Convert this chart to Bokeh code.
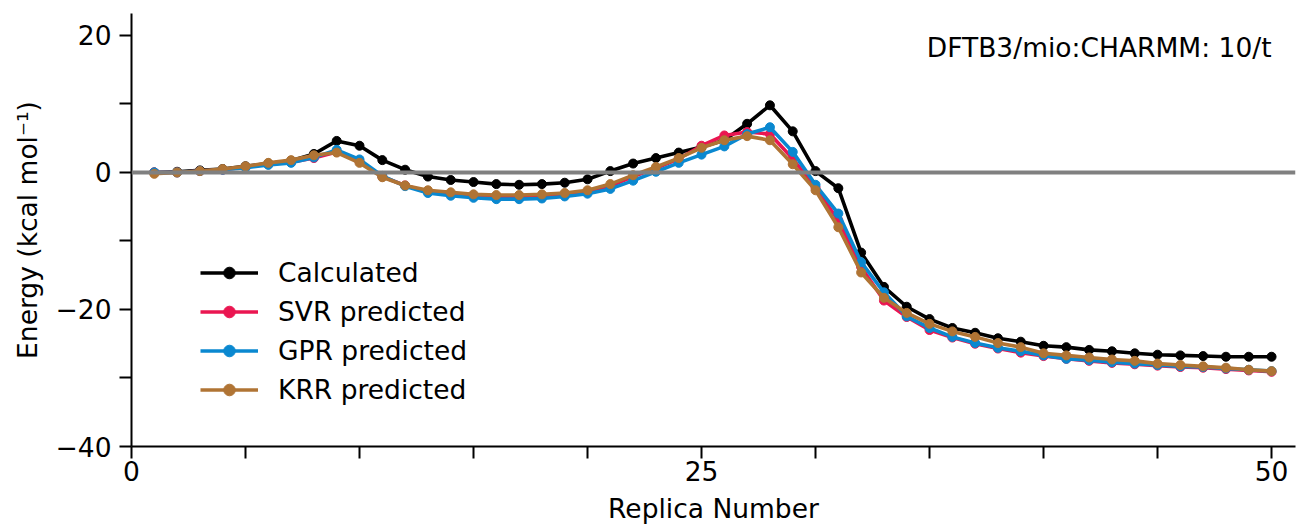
from bokeh.plotting import figure
from bokeh.models import Range1d, FixedTicker, Span, Legend, LegendItem, Label
from bokeh.embed import file_html
from bokeh.resources import INLINE

replica = list(range(1, 51))

calculated = [0.0, 0.1, 0.3, 0.5, 0.9, 1.3, 1.7, 2.7, 4.6, 3.9,
              1.8, 0.4, -0.6, -1.1, -1.4, -1.7, -1.8, -1.7, -1.5, -1.0,
              0.2, 1.3, 2.1, 2.9, 3.7, 4.7, 7.1, 9.8, 6.0, 0.2,
              -2.3, -11.7, -16.7, -19.6, -21.4, -22.7, -23.4, -24.2, -24.7, -25.3,
              -25.5, -25.9, -26.1, -26.4, -26.6, -26.7, -26.8, -26.9, -26.9, -26.9]

svr = [0.0, 0.0, 0.2, 0.4, 0.8, 1.2, 1.5, 2.1, 3.0, 1.6,
       -0.6, -1.9, -2.8, -3.1, -3.4, -3.5, -3.5, -3.4, -3.2, -2.8,
       -2.0, -0.6, 0.6, 2.0, 3.9, 5.4, 5.9, 5.6, 2.0, -2.2,
       -7.0, -13.8, -18.7, -21.1, -23.0, -24.1, -25.0, -25.7, -26.3, -26.8,
       -27.2, -27.5, -27.8, -28.0, -28.2, -28.4, -28.5, -28.7, -28.9, -29.1]

gpr = [0.0, 0.0, 0.2, 0.4, 0.7, 1.1, 1.4, 2.2, 3.3, 1.9,
       -0.5, -2.0, -3.0, -3.4, -3.7, -3.9, -3.9, -3.8, -3.5, -3.1,
       -2.4, -1.2, 0.1, 1.4, 2.6, 3.8, 5.6, 6.6, 3.0, -1.8,
       -6.0, -13.1, -17.5, -21.0, -22.7, -24.0, -24.9, -25.6, -26.1, -26.7,
       -27.2, -27.4, -27.7, -27.9, -28.1, -28.3, -28.4, -28.6, -28.8, -29.0]

krr = [-0.2, 0.0, 0.2, 0.5, 0.9, 1.4, 1.8, 2.5, 2.9, 1.4,
       -0.7, -1.9, -2.6, -2.9, -3.2, -3.3, -3.3, -3.2, -3.0, -2.6,
       -1.7, -0.4, 0.8, 2.1, 3.6, 4.7, 5.3, 4.7, 1.2, -2.6,
       -8.0, -14.6, -18.3, -20.5, -22.1, -23.2, -24.0, -24.9, -25.5, -26.4,
       -26.7, -27.0, -27.3, -27.5, -27.9, -28.1, -28.3, -28.5, -28.8, -29.0]

series_names = ["Calculated", "SVR predicted", "GPR predicted", "KRR predicted"]
series_colors = ["#000000", "#EA1651", "#0A88D0", "#B07434"]

x_ticks = list(range(0, 51, 5))
x_labels = {0: "0", 25: "25", 50: "50"}
y_ticks = list(range(-40, 21, 10))
y_labels = {-40: "\u221240", -20: "\u221220", 0: "0", 20: "20"}
annotation = "DFTB3/mio:CHARMM: 10/t"

FONT = "DejaVu Sans"
FS = "26.5px"

p = figure(width=1297, height=527, output_backend="svg", toolbar_location=None,
           x_range=Range1d(0, 51.05), y_range=Range1d(-40, 23.2),
           min_border_left=131, min_border_right=2, min_border_top=13, min_border_bottom=81)
p.outline_line_color = None
p.xgrid.visible = False
p.ygrid.visible = False
p.background_fill_color = "white"

for ax in (p.xaxis[0], p.yaxis[0]):
    ax.axis_line_width = 2
    ax.major_tick_line_width = 2
    ax.major_tick_out = 12
    ax.major_tick_in = 0
    ax.minor_tick_out = 0
    ax.minor_tick_in = 0
    ax.major_label_text_font = FONT
    ax.major_label_text_font_size = FS
    ax.major_label_text_color = "black"
    ax.axis_label_text_font = FONT
    ax.axis_label_text_font_size = FS
    ax.axis_label_text_font_style = "normal"
    ax.axis_label_text_color = "black"

p.xaxis[0].ticker = FixedTicker(ticks=x_ticks)
p.xaxis[0].major_label_overrides = {t: x_labels.get(t, "") for t in x_ticks}
p.yaxis[0].ticker = FixedTicker(ticks=y_ticks)
p.yaxis[0].major_label_overrides = {t: y_labels.get(t, "") for t in y_ticks}
p.xaxis[0].axis_label = "Replica Number"
p.yaxis[0].axis_label = "Energy (kcal mol\u207b\u00b9)"
p.xaxis[0].major_label_standoff = 2
p.yaxis[0].major_label_standoff = 8
p.xaxis[0].axis_label_standoff = 9
p.yaxis[0].axis_label_standoff = 10

zero = Span(location=0, dimension="width", line_color="#808080", line_width=4)
p.add_layout(zero)

items = []
for name, col, ys in zip(series_names, series_colors, [calculated, svr, gpr, krr]):
    ln = p.line(replica, ys, line_color=col, line_width=3.6)
    sc = p.scatter(replica, ys, marker="circle", size=9, fill_color=col, line_color=col)
    items.append(LegendItem(label=name, renderers=[ln, sc]))

legend = Legend(items=items, location=(69, 41), padding=0, margin=0,
                border_line_color=None, background_fill_alpha=0,
                glyph_width=58, glyph_height=29, label_height=29, spacing=8,
                label_standoff=20, label_text_font=FONT, label_text_font_size=FS,
                label_text_color="black")
p.add_layout(legend)

lab = Label(x=50, y=18.25, text=annotation, text_align="right", text_baseline="middle",
            text_font=FONT, text_font_size=FS, text_color="black")
p.add_layout(lab)

open("out.html", "w").write(file_html(p, INLINE))
